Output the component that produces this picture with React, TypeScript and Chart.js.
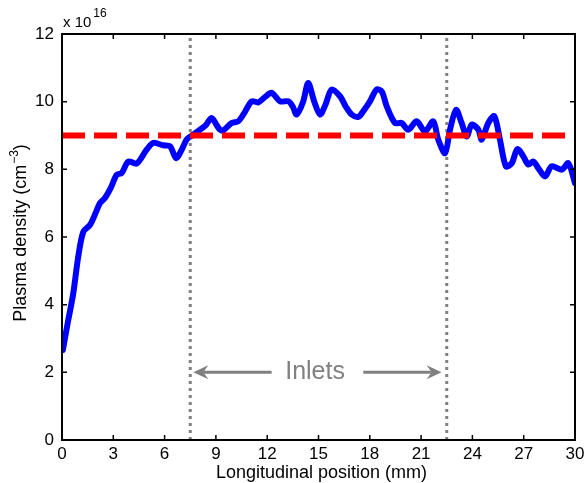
import React, { useEffect, useRef } from 'react';
import { Chart, registerables } from 'chart.js';

Chart.register(...registerables);

// ---- Data ----
const positions = [
  0.05, 0.35, 0.66, 0.95, 1.25, 1.64, 2.0, 2.22, 2.51, 2.85, 3.2, 3.49, 3.88, 4.37, 4.95,
  5.34, 5.92, 6.32, 6.67, 7.0, 7.29, 7.6, 8.07, 8.4, 8.75, 9.05, 9.24, 9.43, 9.92, 10.31,
  10.7, 11.09, 11.48, 11.9, 12.26, 12.75, 13.23, 13.5, 13.72, 14.1, 14.4, 14.75, 15.09,
  15.4, 15.77, 16.26, 16.6, 16.94, 17.33, 17.62, 18.0, 18.4, 18.7, 18.99, 19.47, 19.86,
  20.25, 20.74, 21.23, 21.71, 22.0, 22.4, 22.69, 23.04, 23.37, 23.67, 23.96, 24.35, 24.54,
  24.93, 25.28, 25.61, 25.96, 26.3, 26.63, 26.98, 27.27, 27.56, 27.9, 28.25, 28.64, 29.22,
  29.61, 30,
];
const density = [
  2.66, 3.5, 4.34, 5.42, 6.16, 6.36, 6.75, 7.0, 7.15, 7.45, 7.84, 7.89, 8.23, 8.17, 8.58,
  8.78, 8.71, 8.68, 8.33, 8.58, 8.88, 9.0, 9.17, 9.3, 9.52, 9.3, 9.17, 9.15, 9.37, 9.42,
  9.7, 10.01, 9.98, 10.15, 10.26, 10.01, 10.01, 9.85, 9.62, 10.0, 10.55, 10.0, 9.62,
  9.9, 10.36, 10.16, 9.85, 9.62, 9.55, 9.72, 10.0, 10.36, 10.3, 9.86, 9.37, 9.37,
  9.17, 9.42, 9.12, 9.42, 8.88, 8.48, 9.17, 9.76, 9.37, 8.97, 9.32, 9.17, 8.88,
  9.37, 9.57, 8.88, 8.09, 8.18, 8.6, 8.38, 8.14, 8.23, 8.0, 7.79, 8.09, 7.99,
  8.18, 7.59,
];
const thresholdLevel = 9;
const inletPositions = [7.5, 22.5];
const xTicks = [0, 3, 6, 9, 12, 15, 18, 21, 24, 27, 30];
const yTicks = [0, 2, 4, 6, 8, 10, 12];
const xRange = [0, 30];
const yRange = [0, 12];
const exponentBase = 'x 10';
const exponentPower = '16';
const xTitle = 'Longitudinal position (mm)';
const yTitleMain = 'Plasma density (cm';
const yTitleSup = '\u22123';
const yTitleEnd = ')';
const inletLabel = 'Inlets';
const inletLabelPos = 14.8;
const arrowLevel = 2;
const leftArrow = [12.26, 7.68]; // tail, tip
const rightArrow = [17.62, 22.2]; // tail, tip

const FONT = '"Liberation Sans", Arial, Helvetica, sans-serif';

function drawArrow(ctx: CanvasRenderingContext2D, x0: number, y0: number, x1: number, y1: number) {
  const dir = Math.sign(x1 - x0);
  const L = 15;
  const W = 7;
  const notch = 10;
  ctx.beginPath();
  ctx.moveTo(x0, y0);
  ctx.lineTo(x1 - dir * notch, y1);
  ctx.stroke();
  ctx.beginPath();
  ctx.moveTo(x1, y1);
  ctx.lineTo(x1 - dir * L, y1 - W);
  ctx.lineTo(x1 - dir * notch, y1);
  ctx.lineTo(x1 - dir * L, y1 + W);
  ctx.closePath();
  ctx.fill();
}

const decorPlugin = {
  id: 'decor',
  afterDatasetsDraw(chart: any) {
    const { ctx, chartArea: a, scales } = chart;
    const x = scales.x;
    const y = scales.y;
    ctx.save();

    // Inlets arrows and label
    const ay = y.getPixelForValue(arrowLevel);
    ctx.strokeStyle = '#808080';
    ctx.fillStyle = '#808080';
    ctx.lineWidth = 3;
    drawArrow(ctx, x.getPixelForValue(leftArrow[0]), ay, x.getPixelForValue(leftArrow[1]), ay);
    drawArrow(ctx, x.getPixelForValue(rightArrow[0]), ay, x.getPixelForValue(rightArrow[1]), ay);
    ctx.font = `25px ${FONT}`;
    ctx.textAlign = 'center';
    ctx.textBaseline = 'middle';
    ctx.fillText(inletLabel, x.getPixelForValue(inletLabelPos), ay);

    // Box
    ctx.strokeStyle = '#000';
    ctx.lineWidth = 2;
    ctx.strokeRect(a.left, a.top, a.right - a.left, a.bottom - a.top);

    // Inward ticks on all sides
    const tl = 5;
    ctx.lineWidth = 1.5;
    ctx.beginPath();
    xTicks.forEach((v) => {
      const px = x.getPixelForValue(v);
      ctx.moveTo(px, a.bottom);
      ctx.lineTo(px, a.bottom - tl);
      ctx.moveTo(px, a.top);
      ctx.lineTo(px, a.top + tl);
    });
    yTicks.forEach((v) => {
      const py = y.getPixelForValue(v);
      ctx.moveTo(a.left, py);
      ctx.lineTo(a.left + tl, py);
      ctx.moveTo(a.right, py);
      ctx.lineTo(a.right - tl, py);
    });
    ctx.stroke();

    // Exponent label
    ctx.fillStyle = '#000';
    ctx.textAlign = 'left';
    ctx.textBaseline = 'alphabetic';
    ctx.font = `15px ${FONT}`;
    ctx.fillText(exponentBase, a.left + 1, a.top - 7);
    const bw = ctx.measureText(exponentBase).width;
    ctx.font = `12px ${FONT}`;
    ctx.fillText(exponentPower, a.left + 1 + bw + 2, a.top - 17);

    // X title
    ctx.font = `18px ${FONT}`;
    ctx.textAlign = 'center';
    ctx.fillText(xTitle, (a.left + a.right) / 2 + 3, chart.height - 5);

    // Y title with superscript
    const mainFont = `18px ${FONT}`;
    const supFont = `12px ${FONT}`;
    ctx.font = mainFont;
    const w1 = ctx.measureText(yTitleMain).width;
    const w3 = ctx.measureText(yTitleEnd).width;
    ctx.font = supFont;
    const w2 = ctx.measureText(yTitleSup).width;
    const total = w1 + w2 + w3 + 1;
    ctx.translate(26, (a.top + a.bottom) / 2 - 4);
    ctx.rotate(-Math.PI / 2);
    ctx.textAlign = 'left';
    let cx = -total / 2;
    ctx.font = mainFont;
    ctx.fillText(yTitleMain, cx, 0);
    cx += w1 + 1;
    ctx.font = supFont;
    ctx.fillText(yTitleSup, cx, -8);
    cx += w2;
    ctx.font = mainFont;
    ctx.fillText(yTitleEnd, cx, 0);

    ctx.restore();
  },
};

export default function App() {
  const ref = useRef<HTMLCanvasElement | null>(null);

  useEffect(() => {
    document.body.style.margin = '0';
    const canvas = ref.current;
    if (!canvas) return;
    const curve = positions.map((p, i) => ({ x: p, y: density[i] }));
    const chart = new Chart(canvas, {
      type: 'line',
      data: {
        datasets: [
          {
            data: [
              { x: xRange[0], y: thresholdLevel },
              { x: xRange[1], y: thresholdLevel },
            ],
            borderColor: '#ff0000',
            borderWidth: 6,
            borderDash: [23, 9],
            pointRadius: 0,
            fill: false,
          },
          {
            data: curve,
            borderColor: '#0000ff',
            borderWidth: 6,
            pointRadius: 0,
            tension: 0.3,
            fill: false,
            borderJoinStyle: 'round',
            borderCapStyle: 'round',
          },
          ...inletPositions.map((p) => ({
            data: [
              { x: p, y: yRange[0] },
              { x: p, y: yRange[1] },
            ],
            borderColor: '#808080',
            borderWidth: 3,
            borderDash: [3, 4],
            pointRadius: 0,
            fill: false,
          })),
        ],
      },
      options: {
        animation: false,
        responsive: false,
        events: [],
        layout: { padding: { top: 34, right: 10, left: 0, bottom: 0 } },
        plugins: {
          legend: { display: false },
          tooltip: { enabled: false },
          title: { display: false },
        },
        scales: {
          x: {
            type: 'linear',
            min: xRange[0],
            max: xRange[1],
            afterBuildTicks: (s: any) => {
              s.ticks = xTicks.map((v) => ({ value: v }));
            },
            afterFit: (s: any) => {
              s.height = 43;
              s.paddingLeft = 0;
              s.paddingRight = 0;
            },
            grid: { display: false, drawTicks: false },
            border: { display: false },
            ticks: {
              color: '#000',
              font: { family: FONT, size: 17 },
              padding: 4,
              maxRotation: 0,
              autoSkip: false,
            },
          },
          y: {
            type: 'linear',
            min: yRange[0],
            max: yRange[1],
            afterBuildTicks: (s: any) => {
              s.ticks = yTicks.map((v) => ({ value: v }));
            },
            afterFit: (s: any) => {
              s.width = 62;
              s.paddingTop = 0;
              s.paddingBottom = 0;
            },
            grid: { display: false, drawTicks: false },
            border: { display: false },
            ticks: {
              color: '#000',
              font: { family: FONT, size: 17 },
              padding: 8,
              autoSkip: false,
            },
          },
        },
      },
      plugins: [decorPlugin],
    });
    return () => chart.destroy();
  }, []);

  return (
    <div style={{ width: 585, height: 483 }}>
      <canvas ref={ref} width={585} height={483} style={{ width: 585, height: 483, display: 'block' }} />
    </div>
  );
}
